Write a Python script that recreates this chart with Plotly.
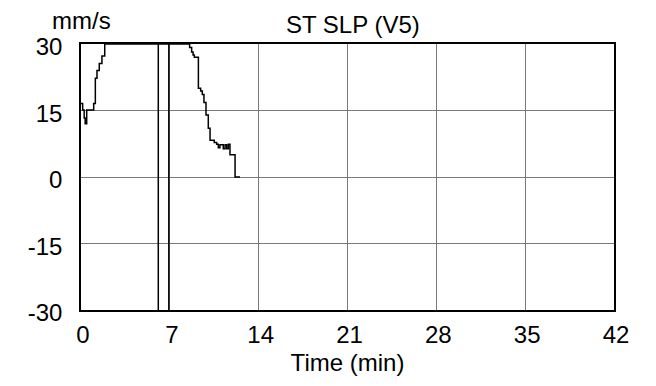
import plotly.graph_objects as go

# ---- data ----
time_min = [0.0, 0.13, 0.25, 0.33, 0.45, 1.0, 1.13, 1.26, 1.44, 1.65, 1.87,
            8.56, 8.72, 8.83, 8.93, 9.25, 9.43, 9.56, 9.69, 9.85, 10.03, 10.17,
            10.5, 10.69, 10.82, 10.95, 11.08, 11.21, 11.35, 11.48, 11.61, 11.74,
            12.14, 12.53]
st_slp = [16.6, 15.1, 13.3, 12.0, 15.1, 16.6, 22.3, 24.0, 25.6, 27.3, 30.0,
          29.2, 28.2, 27.5, 27.0, 20.0, 19.4, 18.6, 16.8, 14.0, 11.0, 8.3,
          7.8, 7.4, 6.6, 7.3, 7.3, 6.4, 7.3, 6.4, 7.4, 5.0,
          0.0, 0.0]
event_times = [6.09, 6.92]
x_ticks = [0, 7, 14, 21, 28, 35, 42]
y_ticks = [-30, -15, 0, 15, 30]

FONT = "Liberation Sans, Arial, sans-serif"

fig = go.Figure()
fig.add_trace(go.Scatter(x=time_min, y=st_slp, mode="lines", line_shape="hv",
                         line=dict(color="black", width=1.5), showlegend=False))

for t in event_times:
    fig.add_shape(type="line", xref="x", yref="paper", x0=t, x1=t, y0=0, y1=1,
                  line=dict(color="black", width=1.5))

fig.update_layout(
    width=656, height=386,
    margin=dict(l=81, r=42, t=44, b=76),
    paper_bgcolor="white", plot_bgcolor="white",
    font=dict(family=FONT, size=24, color="black"),
    title=dict(text="ST SLP (V5)", x=0.51, xref="paper", xanchor="center",
               y=1, yref="paper", yanchor="bottom", pad=dict(b=11),
               font=dict(family=FONT, size=24, color="black")),
    annotations=[dict(text="mm/s", xref="paper", yref="paper", x=0, y=1,
                      xanchor="center", yanchor="bottom", yshift=8,
                      showarrow=False, font=dict(family=FONT, size=24, color="black"))],
)
fig.update_xaxes(range=[0, 42], tickvals=x_ticks, ticktext=[str(v) for v in x_ticks],
                 showgrid=True, gridcolor="#7a7a7a", gridwidth=1, zeroline=False,
                 showline=True, linecolor="black", linewidth=1.5, mirror=True,
                 ticks="", ticklabelstandoff=2, ticklabelshift=2,
                 title=dict(text="Time (min)", standoff=8,
                            font=dict(family=FONT, size=24, color="black")),
                 tickfont=dict(family=FONT, size=24, color="black"))
fig.update_yaxes(range=[-30, 30], tickvals=y_ticks, ticktext=[str(v) for v in y_ticks],
                 showgrid=True, gridcolor="#7a7a7a", gridwidth=1, zeroline=False,
                 showline=True, linecolor="black", linewidth=1.5, mirror=True,
                 ticks="", ticklabelstandoff=12, ticklabelshift=3,
                 tickfont=dict(family=FONT, size=24, color="black"))

fig.write_html("out.html")
